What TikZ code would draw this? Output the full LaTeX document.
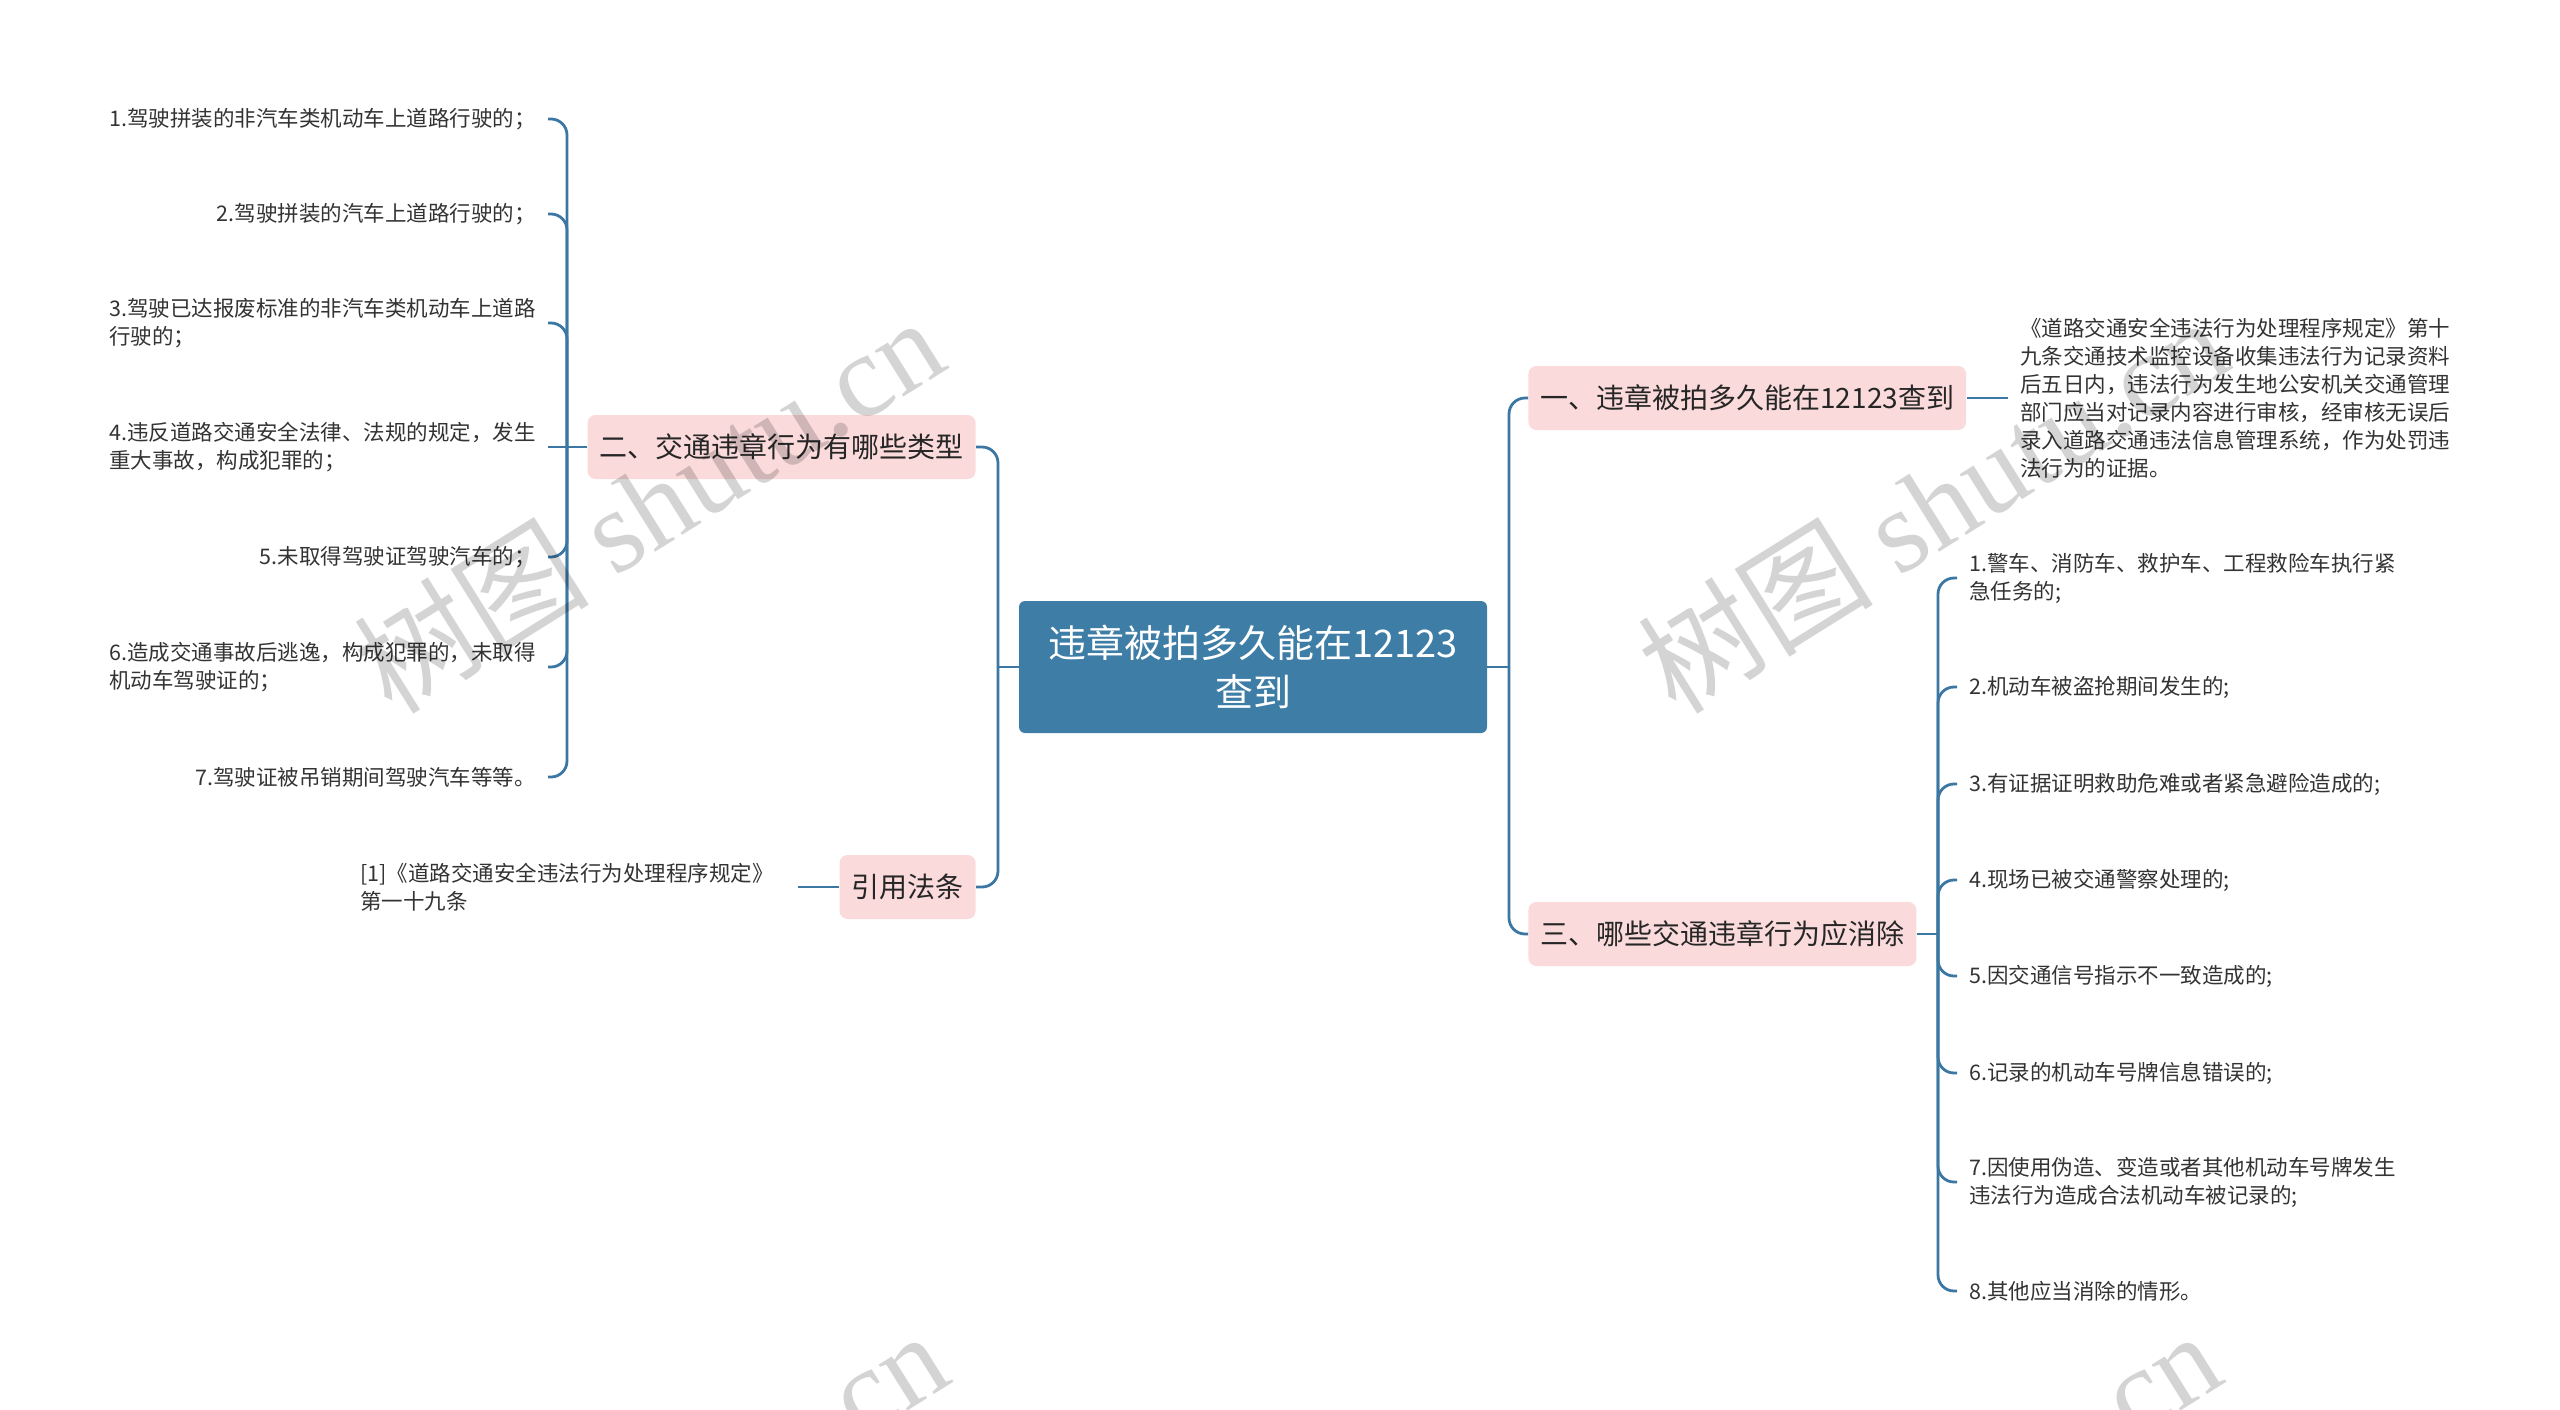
\documentclass[tikz,border=0pt]{standalone}
\usepackage{fontspec}
\setmainfont{Noto Sans CJK SC}
\newfontfamily\wmfont{Liberation Serif}
\definecolor{branch}{HTML}{3B77A2}
\definecolor{rootfill}{HTML}{3D7DA6}
\definecolor{topicfill}{HTML}{FADADA}
\definecolor{ink}{HTML}{333333}
\begin{document}
\begin{tikzpicture}[x=0.5pt, y=-0.5pt,
  root/.style={fill=rootfill, text=white, rounded corners=3pt, align=center,
    font=\fontsize{19}{24.5}\selectfont, minimum width=234pt, minimum height=66pt},
  topic/.style={fill=topicfill, text=black!85, rounded corners=4pt, inner xsep=6pt,
    font=\fontsize{14}{18}\selectfont, minimum height=32pt},
  leaf/.style={text=ink, align=left, inner xsep=6pt, inner ysep=2pt,
    font=\fontsize{10.75}{14}\selectfont},
  link/.style={draw=branch, line width=1.4pt, rounded corners=8pt},
  wm/.style={text=black, text opacity=0.17, rotate=32, font=\fontsize{59}{63}\selectfont}]
\useasboundingbox (0,0) rectangle (2560,1409);
\clip (0,0) rectangle (2560,1409);
\node[root] (C) at (1253,667) {违章被拍多久能在12123\\查到};
\node[topic, anchor=east] (P2) at (976,447) {二、交通违章行为有哪些类型};
\node[topic, anchor=east] (P3) at (976,887) {引用法条};
\node[topic, anchor=west] (P1) at (1528,398) {一、违章被拍多久能在12123查到};
\node[topic, anchor=west] (P4) at (1528,934) {三、哪些交通违章行为应消除};
\node[leaf, anchor=west] (note) at (2008,398) {《道路交通安全违法行为处理程序规定》第十\\九条交通技术监控设备收集违法行为记录资料\\后五日内，违法行为发生地公安机关交通管理\\部门应当对记录内容进行审核，经审核无误后\\录入道路交通违法信息管理系统，作为处罚违\\法行为的证据。};
\node[leaf, anchor=east, inner xsep=12pt] (cite) at (798,887) {[1]《道路交通安全违法行为处理程序规定》\\第一十九条};
\node[leaf, anchor=east] (l1) at (548,119) {1.驾驶拼装的非汽车类机动车上道路行驶的；};
\node[leaf, anchor=east] (l2) at (548,214) {2.驾驶拼装的汽车上道路行驶的；};
\node[leaf, anchor=east] (l3) at (548,323) {3.驾驶已达报废标准的非汽车类机动车上道路\\行驶的；};
\node[leaf, anchor=east] (l4) at (548,447) {4.违反道路交通安全法律、法规的规定，发生\\重大事故，构成犯罪的；};
\node[leaf, anchor=east] (l5) at (548,557) {5.未取得驾驶证驾驶汽车的；};
\node[leaf, anchor=east] (l6) at (548,667) {6.造成交通事故后逃逸，构成犯罪的，未取得\\机动车驾驶证的；};
\node[leaf, anchor=east] (l7) at (548,777) {7.驾驶证被吊销期间驾驶汽车等等。};
\node[leaf, anchor=west] (r1) at (1957,578) {1.警车、消防车、救护车、工程救险车执行紧\\急任务的;};
\node[leaf, anchor=west] (r2) at (1957,687) {2.机动车被盗抢期间发生的;};
\node[leaf, anchor=west] (r3) at (1957,784) {3.有证据证明救助危难或者紧急避险造成的;};
\node[leaf, anchor=west] (r4) at (1957,880) {4.现场已被交通警察处理的;};
\node[leaf, anchor=west] (r5) at (1957,976) {5.因交通信号指示不一致造成的;};
\node[leaf, anchor=west] (r6) at (1957,1073) {6.记录的机动车号牌信息错误的;};
\node[leaf, anchor=west] (r7) at (1957,1182) {7.因使用伪造、变造或者其他机动车号牌发生\\违法行为造成合法机动车被记录的;};
\node[leaf, anchor=west] (r8) at (1957,1291) {8.其他应当消除的情形。};
\coordinate (jL) at (567,447);
\coordinate (jC) at (998,667);
\coordinate (jR) at (1509,667);
\coordinate (jQ) at (1938,934);
\draw[link] (P2.east) -| (jC);
\draw[link] (P3.east) -| (jC);
\draw[link] (jC) -- (C.west);
\draw[link] (C.east) -- (jR);
\draw[link] (jR) |- (P1.west);
\draw[link] (jR) |- (P4.west);
\draw[link] (P1.east) -- (note.west);
\draw[link] (P3.west) -- (cite.east);
\foreach \i in {1,2,3,5,6,7}
  \draw[link] (l\i.east) -| (jL);
\draw[link] (l4.east) -- (jL);
\draw[link] (jL) -- (P2.west);
\draw[link] (P4.east) -- (jQ);
\foreach \i in {1,...,8}
  \draw[link] (jQ) |- (r\i.west);
\node[wm] (wm1) at (648,504) {树图 {\wmfont shutu.cn}};
\node[wm] (wm2) at (1932,504) {树图 {\wmfont shutu.cn}};
\node[wm] (wm3) at (652,1518) {树图 {\wmfont shutu.cn}};
\node[wm] (wm4) at (1925,1518) {树图 {\wmfont shutu.cn}};
\end{tikzpicture}
\end{document}
